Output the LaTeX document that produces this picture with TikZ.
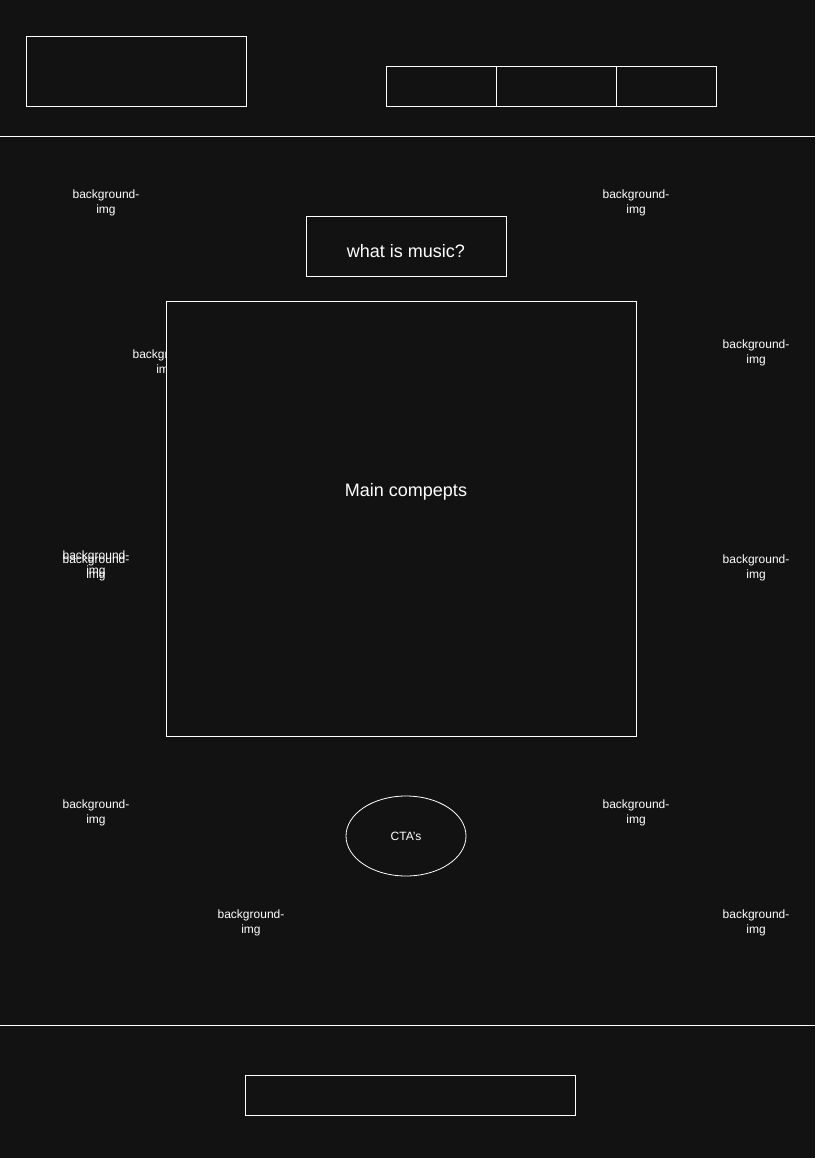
\documentclass[tikz,border=0pt]{standalone}
\usepackage{fontspec}
\setmainfont{Liberation Sans}
\usetikzlibrary{shapes.geometric}
\definecolor{pagebg}{HTML}{121212}
\newcommand{\bgimg}[2]{
  \node [bglabel] (#1) at (#2) {background-\\img};
}

\begin{document}
\begin{tikzpicture}[x=1pt,y=-1pt,
    frame/.style={draw=white,line width=0.8pt,fill=pagebg,inner sep=0pt,anchor=north west},
    bglabel/.style={text=white,align=center,inner sep=0pt,font=\fontsize{12}{15}\selectfont},
    bigtext/.style={text=white,font=\fontsize{18}{22}\selectfont}]
  \fill [pagebg] (0,0) rectangle (815,1158);
  \useasboundingbox (0,0) rectangle (815,1158);
  % header
  \node [frame,minimum width=220pt,minimum height=70pt] (logo) at (26,36) {};
  \node [frame,minimum width=110pt,minimum height=40pt] (navA) at (386,66) {};
  \node [frame,minimum width=120pt,minimum height=40pt] (navB) at (496,66) {};
  \node [frame,minimum width=100pt,minimum height=40pt] (navC) at (616,66) {};
  \draw [white,line width=0.8pt] (0,136) -- (815,136);
  % scattered labels
  \bgimg{bgA}{106,203}
  \bgimg{bgB}{636,203}
  \bgimg{bgC}{756,353}
  \bgimg{bgD}{166,363}
  \bgimg{bgE}{96,564}
  \bgimg{bgF}{96,568}
  \bgimg{bgG}{756,568}
  \bgimg{bgH}{96,813}
  \bgimg{bgI}{636,813}
  \bgimg{bgJ}{251,923}
  \bgimg{bgK}{756,923}
  % content
  \node [frame,minimum width=200pt,minimum height=60pt] (title) at (306,216) {};
  \node [bigtext] (titletext) at (406,251) {what is music?};
  \node [frame,minimum width=470pt,minimum height=435pt] (main) at (166,301) {};
  \node [bigtext] (maintext) at (406,492) {Main compepts};
  \node [ellipse,draw=white,line width=0.8pt,minimum width=120pt,minimum height=80pt,
    inner sep=0pt,text=white,font=\fontsize{12}{15}\selectfont] (cta) at (406,836) {CTA's};
  % footer
  \draw [white,line width=0.8pt] (0,1025) -- (815,1025);
  \node [frame,minimum width=330pt,minimum height=40pt] (foot) at (245,1075) {};
\end{tikzpicture}
\end{document}
